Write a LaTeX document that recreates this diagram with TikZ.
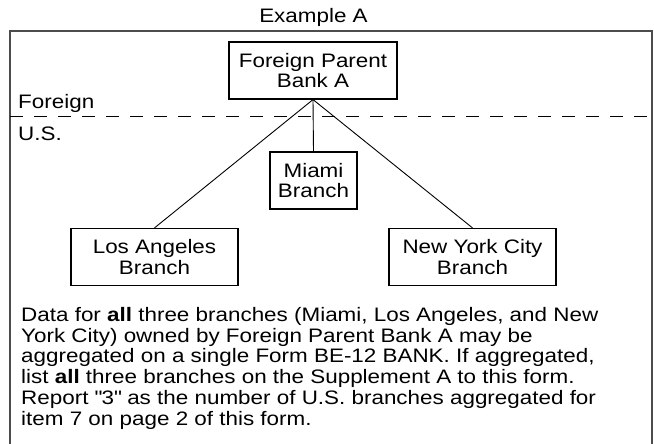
\documentclass[tikz,border=0pt]{standalone}
\usepackage{fontspec}
\setmainfont{Liberation Sans}[FakeStretch=1.15]
\newcommand{\straightquote}{\XeTeXglyph\XeTeXcharglyph34\relax}
\begin{document}
\begin{tikzpicture}[x=1pt, y=-1pt,
		every node/.style={font=\fontsize{19.5}{20.5}\selectfont},
		bankbox/.style={draw, line width=1.2pt, align=center, inner sep=0pt, minimum height=57pt},
		tie/.style={line width=0.9pt}]
		\useasboundingbox (0,0) rectangle (654,444);

		\node[anchor=base] (title) at (313.5,23) {Example A};
		\draw[line width=1.5pt, black!70] (10,444) -- (10,31) -- (652,31) -- (652,444);

		\draw[line width=1pt, dash pattern=on 13pt off 11pt] (10,117) -- (652,117);
		\node[anchor=base west, inner sep=0pt] (foreign) at (18,109) {Foreign};
		\node[anchor=base west, inner sep=0pt] (us) at (18,140) {U.S.};

		\node[bankbox, minimum width=168pt] (parent) at (313,70.5) {Foreign Parent\\Bank A};
		\node[bankbox, minimum width=87pt] (miami) at (313.5,180.5) {Miami\\Branch};
		\node[bankbox, minimum width=167pt] (losangeles) at (154.5,257) {Los Angeles\\Branch};
		\node[bankbox, minimum width=167pt] (newyork) at (472.5,257) {New York City\\Branch};

		\draw[tie] (parent.south) -- (losangeles.north);
		\draw[tie] (parent.south) -- (miami.north);
		\draw[tie] (parent.south) -- (newyork.north);

		\node[anchor=north west, inner sep=0pt, align=left, font=\fontsize{19.5}{20.8}\selectfont] (note) at (21,307)
			{Data for \textbf{all} three branches (Miami, Los Angeles, and New\\
			York City) owned by Foreign Parent Bank A may be\\
			aggregated on a single Form BE-12 BANK. If aggregated,\\
			list \textbf{all} three branches on the Supplement A to this form.\\
			Report \straightquote3\straightquote{} as the number of U.S. branches aggregated for\\
			item 7 on page 2 of this form.};
\end{tikzpicture}
\end{document}
